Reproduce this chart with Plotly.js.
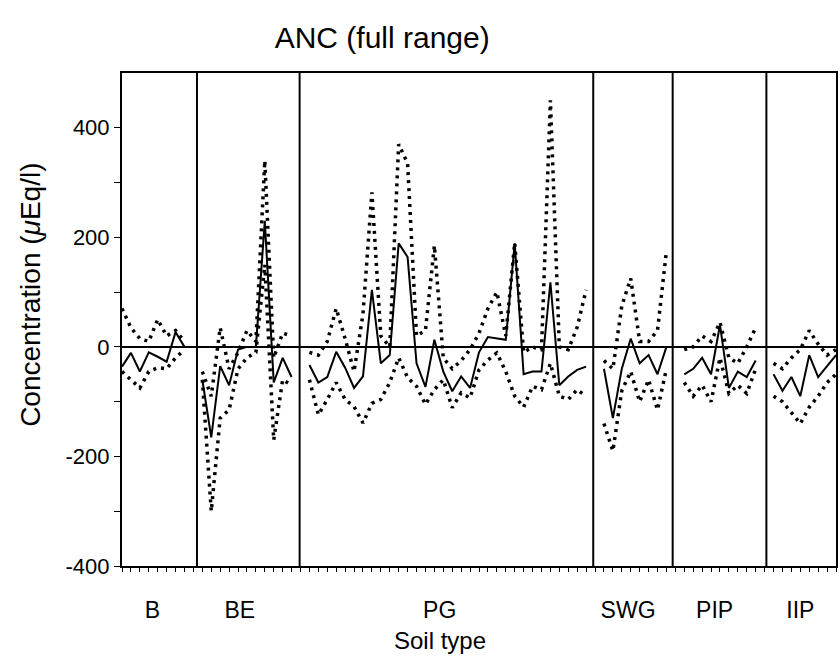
<!DOCTYPE html>
<html>
<head>
<meta charset="utf-8">
<script src="https://cdn.plot.ly/plotly-3.0.1.min.js"></script>
<style>html,body{margin:0;padding:0;background:#fff;}#chart{width:840px;height:666px;}</style>
</head>
<body>
<div id="chart"></div>
<script>
// ---- data ----
const groupNames = ['B', 'BE', 'PG', 'SWG', 'PIP', 'IIP'];
const groupCenters = [3.4, 13.2, 35.6, 56.7, 66.4, 76.0];
const groupBoundaries = [8.4, 19.9, 52.8, 61.7, 72.2];
const xTitleCenter = 35.6;
const yTitleCenter = 95;

const sitesB = [0, 1, 2, 3, 4, 5, 6, 7];
const meanB  = [-36, -11, -45, -10, -18, -27, 27, 0];
const upperB = [70, 35, 15, 10, 50, 20, 30, 10];
const lowerB = [-45, -60, -75, -45, -38, -40, -20, -5];

const sitesBE = [9, 10, 11, 12, 13, 14, 15, 16, 17, 18, 19];
const meanBE  = [-60, -165, -35, -70, -5, 0, 0, 230, -65, -20, -55];
const upperBE = [-45, -90, 35, -40, -10, 30, 10, 340, -20, 25, 20];
const lowerBE = [-60, -300, -130, -115, -40, -20, -10, 150, -170, -60, -70];

const sitesPG = [21, 22, 23, 24, 25, 26, 27, 28, 29, 30, 31, 32, 33, 34, 35, 36,
                 37, 38, 39, 40, 41, 42, 43, 44, 45, 46, 47, 48, 49, 50, 51, 52];
const meanPG  = [-33, -65, -55, -9, -38, -75, -54, 104, -30, -15, 189, 164, -30, -73, 13, -45,
                 -81, -54, -75, -10, 18, 15, 13, 189, -50, -45, -45, 118, -70, -54, -42, -36];
const upperPG = [-10, -15, 10, 70, 15, -45, 60, 282, 20, 0, 370, 335, 20, 30, 185, -20,
                 -40, -25, -5, 25, 70, 100, 20, 190, -10, 0, -5, 450, 0, -5, 36, 104];
const lowerPG = [-60, -124, -96, -65, -96, -109, -139, -103, -96, -65, -20, -56, -72, -105, -78, -60,
                 -111, -84, -93, -42, -24, -11, -45, -90, -110, -72, -78, -30, -90, -96, -78, -90];

const sitesSWG = [54, 55, 56, 57, 58, 59, 60, 61];
const meanSWG  = [-40, -130, -40, 15, -30, -15, -50, 0];
const upperSWG = [-25, -40, 75, 125, 10, 10, 30, 175];
const lowerSWG = [-140, -190, -80, -45, -100, -60, -115, -40];

const sitesPIP = [63, 64, 65, 66, 67, 68, 69, 70, 71];
const meanPIP  = [-50, -40, -20, -50, 40, -75, -45, -55, -25];
const upperPIP = [-5, 0, 20, 10, 45, -20, -30, 0, 35];
const lowerPIP = [-65, -90, -70, -100, -20, -85, -70, -85, -40];

const sitesIIP = [73, 74, 75, 76, 77, 78, 79, 80];
const meanIIP  = [-50, -80, -55, -90, -15, -55, -35, -15];
const upperIIP = [-30, -40, -20, -5, 30, 5, -15, -5];
const lowerIIP = [-90, -100, -120, -140, -110, -90, -65, -50];

const yTickVals = [-400, -300, -200, -100, 0, 100, 200, 300, 400];
const yTickText = ['-400', '', '-200', '', '0', '', '200', '', '400'];

// ---- build series with breaks between soil types ----
const sites = [sitesB, sitesBE, sitesPG, sitesSWG, sitesPIP, sitesIIP];
const means = [meanB, meanBE, meanPG, meanSWG, meanPIP, meanIIP];
const uppers = [upperB, upperBE, upperPG, upperSWG, upperPIP, upperIIP];
const lowers = [lowerB, lowerBE, lowerPG, lowerSWG, lowerPIP, lowerIIP];

function joinGroups(xs, ys) {
  const X = [], Y = [];
  xs.forEach((g, i) => {
    if (i > 0) { X.push(null); Y.push(null); }
    g.forEach((v, j) => { X.push(v); Y.push(ys[i][j]); });
  });
  return {x: X, y: Y};
}

const m = joinGroups(sites, means);
const u = joinGroups(sites, uppers);
const l = joinGroups(sites, lowers);

const FONT = 'Liberation Sans, Arial, Helvetica, sans-serif';

const traces = [
  {x: u.x, y: u.y, type: 'scatter', mode: 'lines', name: 'upper',
   line: {color: '#000', width: 3.5, dash: '3px,5px'}, connectgaps: false, hoverinfo: 'skip'},
  {x: l.x, y: l.y, type: 'scatter', mode: 'lines', name: 'lower',
   line: {color: '#000', width: 3.5, dash: '3px,5px'}, connectgaps: false, hoverinfo: 'skip'},
  {x: m.x, y: m.y, type: 'scatter', mode: 'lines', name: 'mean',
   line: {color: '#000', width: 2}, connectgaps: false}
];

const shapes = groupBoundaries.map(b => ({
  type: 'line', xref: 'x', yref: 'paper', x0: b, x1: b, y0: 0, y1: 1,
  line: {color: '#000', width: 2}
}));

const layout = {
  width: 840, height: 666,
  paper_bgcolor: '#fff', plot_bgcolor: '#fff',
  margin: {l: 122, r: 4, t: 73, b: 100},
  showlegend: false,
  font: {family: FONT, color: '#000'},
  title: {text: 'ANC (full range)', font: {family: FONT, size: 30, color: '#000'},
          x: 0.455, xanchor: 'center', xref: 'container', y: 0.943, yref: 'container', yanchor: 'middle'},
  xaxis: {
    range: [0, 80], showgrid: false, zeroline: false,
    showline: true, linecolor: '#000', linewidth: 2, mirror: true,
    tickmode: 'array', tickvals: groupCenters, ticktext: groupNames,
    ticks: '', ticklabelstandoff: 22,
    tickfont: {family: FONT, size: 23, color: '#000'},
    minor: {ticks: 'outside', tickmode: 'linear', tick0: 0, dtick: 1, ticklen: 4, tickwidth: 1, tickcolor: '#000', showgrid: false}
  },
  yaxis: {
    range: [-400, 500], showgrid: false,
    zeroline: true, zerolinecolor: '#000', zerolinewidth: 2,
    showline: true, linecolor: '#000', linewidth: 2, mirror: true,
    tickmode: 'array', tickvals: yTickVals, ticktext: yTickText,
    ticks: 'outside', ticklen: 6, tickwidth: 1, tickcolor: '#000',
    tickfont: {family: FONT, size: 22, color: '#000'}
  },
  annotations: [{
    text: 'Soil type', xref: 'x', yref: 'paper', x: xTitleCenter, y: 0,
    yanchor: 'middle', xanchor: 'center', yshift: -74, showarrow: false,
    font: {family: FONT, size: 24, color: '#000'}
  }, {
    text: 'Concentration (<i>μ</i>Eq/l)', xref: 'paper', yref: 'y', x: 0, y: yTitleCenter,
    xanchor: 'center', yanchor: 'middle', xshift: -91, textangle: -90, showarrow: false,
    font: {family: FONT, size: 28, color: '#000'}
  }],
  shapes: shapes
};

Plotly.newPlot('chart', traces, layout, {staticPlot: true, displayModeBar: false});
</script>
</body>
</html>
